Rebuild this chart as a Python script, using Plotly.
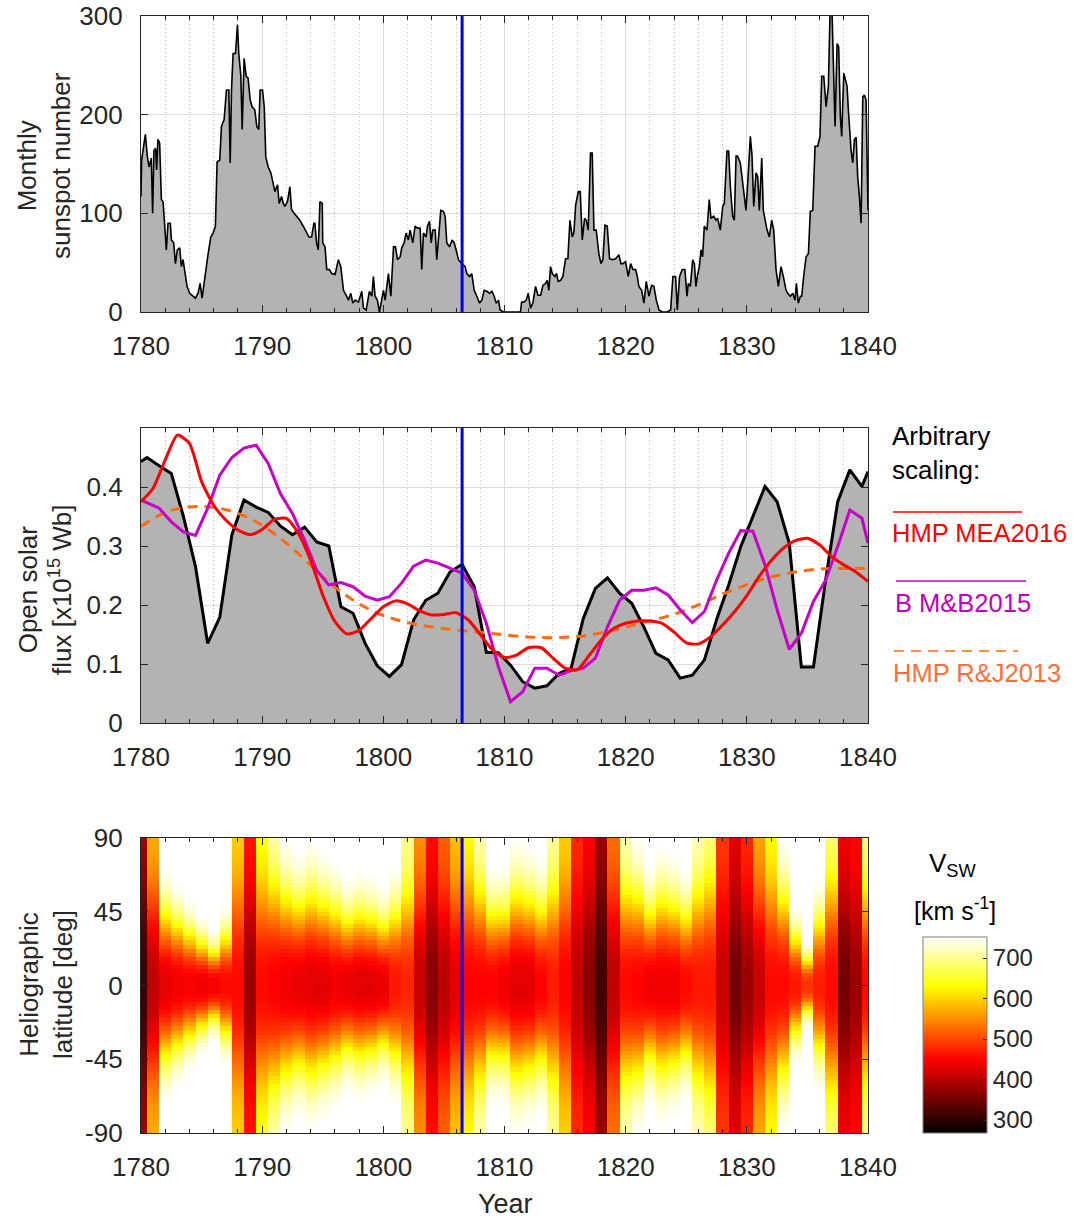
import numpy as np
import plotly.graph_objects as go

W, H = 1074, 1219
FONT = "Liberation Sans, Arial, Helvetica, sans-serif"
AX = "#262626"

# ---------------- Panel 1: monthly sunspot number ----------------
ssn_year = [
    1780.00, 1780.05, 1780.17, 1780.36, 1780.52, 1780.66, 1780.85, 1780.96, 1781.07, 1781.21,
    1781.29, 1781.40, 1781.54, 1781.68, 1781.82, 1781.96, 1782.09, 1782.23, 1782.42, 1782.51,
    1782.70, 1782.84, 1783.00, 1783.20, 1783.33, 1783.47, 1783.61, 1783.80, 1784.02, 1784.30,
    1784.49, 1784.71, 1784.88, 1785.04, 1785.26, 1785.54, 1785.76, 1785.95, 1786.14, 1786.28,
    1786.50, 1786.64, 1786.86, 1787.05, 1787.25, 1787.36, 1787.47, 1787.60, 1787.80, 1787.96,
    1788.07, 1788.24, 1788.35, 1788.51, 1788.68, 1788.84, 1789.01, 1789.17, 1789.39, 1789.56,
    1789.72, 1789.83, 1790.03, 1790.17, 1790.30, 1790.50, 1790.72, 1790.91, 1791.05, 1791.27,
    1791.40, 1791.60, 1791.74, 1791.87, 1792.09, 1792.29, 1792.42, 1792.64, 1792.84, 1793.11,
    1793.39, 1793.66, 1793.86, 1794.08, 1794.27, 1794.35, 1794.49, 1794.63, 1794.77, 1794.96,
    1795.00, 1795.19, 1795.33, 1795.55, 1795.74, 1796.02, 1796.29, 1796.49, 1796.71, 1796.93,
    1797.12, 1797.31, 1797.48, 1797.67, 1797.95, 1798.22, 1798.36, 1798.58, 1798.85, 1799.05,
    1799.18, 1799.32, 1799.51, 1799.68, 1799.87, 1800.01, 1800.15, 1800.42, 1800.62, 1800.84,
    1801.00, 1801.17, 1801.39, 1801.52, 1801.72, 1801.88, 1802.07, 1802.21, 1802.43, 1802.62,
    1802.82, 1803.04, 1803.17, 1803.31, 1803.53, 1803.64, 1803.81, 1803.95, 1804.08, 1804.28,
    1804.41, 1804.55, 1804.74, 1804.96, 1805.10, 1805.24, 1805.46, 1805.68, 1805.85, 1806.01,
    1806.20, 1806.48, 1806.75, 1806.89, 1807.11, 1807.30, 1807.50, 1807.72, 1807.94, 1808.13,
    1808.32, 1808.54, 1808.76, 1808.96, 1809.15, 1809.31, 1809.51, 1809.64, 1809.92, 1811.32,
    1811.41, 1811.60, 1811.79, 1811.96, 1812.15, 1812.34, 1812.56, 1812.76, 1812.98, 1813.17,
    1813.39, 1813.53, 1813.66, 1813.80, 1813.94, 1814.16, 1814.30, 1814.43, 1814.63, 1814.82,
    1815.04, 1815.23, 1815.40, 1815.59, 1815.73, 1815.87, 1816.09, 1816.25, 1816.42, 1816.61,
    1816.75, 1816.91, 1817.10, 1817.24, 1817.38, 1817.57, 1817.79, 1817.96, 1818.12, 1818.29,
    1818.48, 1818.67, 1818.89, 1819.17, 1819.44, 1819.61, 1819.77, 1819.99, 1820.21, 1820.41,
    1820.60, 1820.82, 1820.96, 1821.09, 1821.32, 1821.51, 1821.70, 1821.92, 1822.14, 1822.33,
    1822.53, 1822.75, 1823.02, 1823.43, 1823.71, 1823.90, 1824.12, 1824.26, 1824.45, 1824.67,
    1824.89, 1825.06, 1825.17, 1825.34, 1825.53, 1825.67, 1825.80, 1825.94, 1826.08, 1826.22,
    1826.35, 1826.49, 1826.71, 1826.90, 1827.04, 1827.26, 1827.45, 1827.59, 1827.81, 1828.01,
    1828.14, 1828.36, 1828.50, 1828.64, 1828.83, 1828.97, 1829.11, 1829.24, 1829.46, 1829.60,
    1829.79, 1829.93, 1830.07, 1830.29, 1830.43, 1830.57, 1830.76, 1830.90, 1831.03, 1831.23,
    1831.36, 1831.50, 1831.67, 1831.86, 1832.05, 1832.22, 1832.41, 1832.60, 1832.82, 1833.01,
    1833.24, 1833.37, 1833.59, 1833.79, 1833.98, 1834.09, 1834.25, 1834.42, 1834.53, 1834.69,
    1834.89, 1835.08, 1835.24, 1835.44, 1835.63, 1835.85, 1836.04, 1836.18, 1836.35, 1836.54,
    1836.73, 1836.87, 1837.03, 1837.17, 1837.28, 1837.45, 1837.58, 1837.72, 1837.83, 1838.00,
    1838.13, 1838.27, 1838.38, 1838.49, 1838.60, 1838.74, 1838.88, 1839.02, 1839.15, 1839.29,
    1839.43, 1839.57, 1839.70, 1839.84, 1839.98, 1840.00,
]
ssn = [
    117, 154, 164, 180, 158, 147, 156, 100, 164, 166,
    144, 175, 171, 114, 112, 90, 63, 90, 90, 73,
    70, 49, 63, 65, 46, 53, 39, 26, 19, 16,
    14, 19, 29, 14, 36, 59, 76, 80, 87, 152,
    154, 188, 195, 225, 225, 151, 225, 262, 262, 291,
    262, 239, 185, 257, 239, 237, 215, 208, 205, 188,
    185, 225, 225, 208, 157, 147, 141, 130, 122, 129,
    110, 117, 110, 107, 112, 127, 104, 100, 97, 93,
    87, 80, 76, 76, 90, 90, 70, 63, 112, 110,
    70, 66, 43, 43, 39, 38, 53, 46, 22, 17,
    12, 19, 9, 12, 10, 21, 4, 2, 21, 16,
    36, 16, 12, 0, 12, 22, 12, 39, 16, 66,
    66, 53, 56, 65, 70, 80, 73, 83, 70, 87,
    85, 85, 43, 80, 76, 87, 92, 70, 83, 83,
    53, 73, 103, 102, 97, 70, 66, 73, 70, 63,
    53, 49, 46, 39, 36, 39, 22, 16, 9, 12,
    22, 21, 19, 21, 16, 9, 12, 2, 0, 0,
    10, 10, 12, 19, 4, 9, 26, 17, 17, 27,
    29, 32, 22, 46, 39, 36, 39, 31, 32, 36,
    54, 54, 93, 76, 81, 108, 122, 122, 73, 95,
    93, 83, 161, 161, 83, 83, 59, 49, 53, 88,
    87, 54, 53, 54, 58, 49, 49, 51, 36, 49,
    43, 43, 36, 26, 22, 9, 31, 16, 27, 26,
    12, 2, 0, 0, 2, 36, 36, 2, 36, 43,
    43, 16, 29, 26, 53, 49, 26, 38, 46, 63,
    56, 87, 83, 114, 95, 97, 93, 95, 83, 107,
    110, 163, 163, 127, 97, 93, 158, 158, 151, 137,
    114, 103, 130, 178, 158, 107, 141, 137, 103, 156,
    103, 93, 83, 76, 93, 83, 43, 26, 46, 36,
    22, 19, 16, 19, 12, 29, 9, 16, 16, 36,
    56, 59, 102, 103, 168, 168, 178, 239, 239, 208,
    229, 305, 305, 239, 188, 272, 269, 198, 178, 242,
    235, 229, 205, 178, 164, 151, 175, 177, 137, 117,
    90, 218, 220, 215, 124, 103,
]

# ---------------- Panel 2: open solar flux ----------------
osf_year = [1780.0, 1780.5, 1781.5, 1782.5, 1783.5, 1784.5, 1785.5, 1786.5, 1787.5, 1788.5,
            1789.5, 1790.5, 1791.5, 1792.5, 1793.5, 1794.5, 1795.5, 1796.5, 1797.5, 1798.5,
            1799.5, 1800.5, 1801.5, 1802.5, 1803.5, 1804.5, 1805.5, 1806.5, 1807.5, 1808.5,
            1809.5, 1810.5, 1811.5, 1812.5, 1813.5, 1814.5, 1815.5, 1816.5, 1817.5, 1818.5,
            1819.5, 1820.5, 1821.5, 1822.5, 1823.5, 1824.5, 1825.5, 1826.5, 1827.5, 1828.5,
            1829.5, 1830.5, 1831.5, 1832.5, 1833.5, 1834.5, 1835.5, 1836.5, 1837.5, 1838.5,
            1839.5, 1840.0]
osf = [0.443, 0.450, 0.436, 0.423, 0.350, 0.265, 0.135, 0.179, 0.319, 0.378,
       0.366, 0.357, 0.334, 0.319, 0.332, 0.307, 0.300, 0.197, 0.186, 0.135,
       0.097, 0.079, 0.099, 0.175, 0.208, 0.220, 0.256, 0.269, 0.231, 0.120,
       0.119, 0.098, 0.070, 0.059, 0.063, 0.084, 0.093, 0.177, 0.228, 0.246,
       0.220, 0.203, 0.163, 0.118, 0.107, 0.076, 0.081, 0.107, 0.175, 0.234,
       0.299, 0.350, 0.401, 0.375, 0.305, 0.095, 0.095, 0.242, 0.375, 0.429,
       0.401, 0.426]

mea_year = list(range(1780, 1841))
mea = [0.375, 0.398, 0.446, 0.488, 0.474, 0.409, 0.369, 0.344, 0.327, 0.319,
       0.328, 0.345, 0.347, 0.321, 0.276, 0.217, 0.172, 0.151, 0.157, 0.177,
       0.197, 0.207, 0.202, 0.190, 0.183, 0.184, 0.187, 0.175, 0.150, 0.124,
       0.111, 0.115, 0.128, 0.128, 0.110, 0.093, 0.090, 0.115, 0.141, 0.160,
       0.169, 0.173, 0.173, 0.169, 0.154, 0.136, 0.134, 0.146, 0.166, 0.189,
       0.216, 0.248, 0.275, 0.296, 0.309, 0.313, 0.302, 0.282, 0.268, 0.256,
       0.240]

mb_year = osf_year
mb = [0.378, 0.373, 0.364, 0.341, 0.324, 0.318, 0.364, 0.420, 0.450, 0.466,
      0.471, 0.440, 0.389, 0.355, 0.310, 0.259, 0.234, 0.238, 0.231, 0.215,
      0.208, 0.214, 0.237, 0.266, 0.276, 0.271, 0.262, 0.254, 0.225, 0.169,
      0.095, 0.036, 0.053, 0.093, 0.093, 0.081, 0.089, 0.093, 0.110, 0.163,
      0.208, 0.225, 0.225, 0.229, 0.217, 0.192, 0.170, 0.189, 0.242, 0.288,
      0.326, 0.325, 0.268, 0.192, 0.125, 0.152, 0.206, 0.242, 0.299, 0.361,
      0.347, 0.305]

rj_year = [1780.0, 1781.8, 1783.8, 1785.7, 1787.6, 1789.5, 1791.5, 1793.4, 1795.3, 1797.3,
           1799.2, 1801.1, 1803.0, 1805.0, 1806.9, 1808.8, 1810.7, 1812.7, 1814.6, 1816.6,
           1818.5, 1820.5, 1822.4, 1824.4, 1826.3, 1828.2, 1830.2, 1832.1, 1834.0, 1836.0,
           1837.9, 1839.9]
rj = [0.333, 0.355, 0.366, 0.366, 0.358, 0.341, 0.313, 0.279, 0.242, 0.211,
      0.189, 0.175, 0.166, 0.160, 0.156, 0.152, 0.148, 0.145, 0.145, 0.148,
      0.155, 0.165, 0.175, 0.187, 0.203, 0.220, 0.236, 0.248, 0.256, 0.261,
      0.262, 0.262]

# ---------------- Panel 3: solar wind speed vs latitude ----------------
vsw_year = list(range(1780, 1841))
vsw_equator = [310, 405, 432, 440, 445, 440, 445, 455, 455, 378,
               455, 450, 440, 435, 430, 430, 440, 435, 430, 430,
               435, 465, 475, 410, 365, 400, 430, 450, 450, 450,
               440, 430, 430, 450, 470, 450, 405, 365, 315, 405,
               455, 450, 440, 440, 440, 455, 465, 465, 410, 350,
               380, 410, 455, 455, 465, 485, 470, 455, 350, 380,
               455]
vsw_pole = [385, 575, 760, 760, 760, 760, 760, 760, 600, 465,
            640, 725, 760, 760, 760, 760, 760, 760, 760, 760,
            760, 760, 700, 555, 460, 520, 590, 635, 720, 760,
            760, 760, 760, 760, 710, 600, 480, 450, 377, 530,
            720, 760, 760, 760, 760, 760, 725, 700, 490, 430,
            480, 570, 635, 760, 760, 760, 760, 700, 440, 455,
            700]
vsw_halfwidth = [60, 55, 44, 38, 32, 26, 21, 30, 55, 55,
                 55, 60, 55, 50, 54, 50, 46, 40, 43, 41,
                 37, 45, 52, 55, 55, 55, 55, 55, 55, 45,
                 45, 55, 52, 48, 55, 55, 55, 55, 55, 55,
                 55, 56, 45, 52, 49, 44, 55, 60, 55, 55,
                 55, 55, 55, 55, 30, 17, 40, 60, 55, 55,
                 55]
lat_centres = np.arange(-88.75, 90, 2.5)
vmin_cb, vmax_cb = 268, 752
cb_ticks = [300, 400, 500, 600, 700]

event_year = 1806.5

# build the V_sw grid (latitude x year) from the per-year profiles
veq = np.array(vsw_equator, float)
vpo = np.array(vsw_pole, float)
hw = np.array(vsw_halfwidth, float)
frac = 1 - np.exp(-(np.abs(lat_centres)[:, None] / hw[None, :]) ** 2.5)
vsw_grid = vpo[None, :] - (vpo - veq)[None, :] * (1 - frac)

# ---------------- geometry (window pixels) ----------------
L, R, T, B = 141, 868, 16, 1133          # plot-area box in pixels
PW, PH = R - L, B - T
panels_px = [(16, 312), (428, 723), (838, 1133)]


def px(x):
    return (x - L) / PW


def py(y):
    return (B - y) / PH


def ydom(t, b):
    return [py(b), py(t)]


tickfont = dict(family=FONT, size=26, color=AX)

fig = go.Figure()

fig.add_trace(go.Scatter(x=ssn_year, y=ssn, mode="lines", fill="tozeroy",
                         fillcolor="#B3B3B3", line=dict(color="black", width=1.6),
                         xaxis="x", yaxis="y", showlegend=False))

fig.add_trace(go.Scatter(x=osf_year, y=osf, mode="lines", fill="tozeroy",
                         fillcolor="#B3B3B3", line=dict(color="black", width=3),
                         xaxis="x2", yaxis="y2", showlegend=False))
fig.add_trace(go.Scatter(x=rj_year, y=rj, mode="lines",
                         line=dict(color="#FF6A10", width=3, dash="10px,7px", shape="spline"),
                         xaxis="x2", yaxis="y2", showlegend=False))
fig.add_trace(go.Scatter(x=mb_year, y=mb, mode="lines",
                         line=dict(color="#C800C8", width=3),
                         xaxis="x2", yaxis="y2", showlegend=False))
fig.add_trace(go.Scatter(x=mea_year, y=mea, mode="lines",
                         line=dict(color="#FF0000", width=3, shape="spline", smoothing=0.6),
                         xaxis="x2", yaxis="y2", showlegend=False))

hot = [[0, "rgb(0,0,0)"], [0.375, "rgb(255,0,0)"], [0.75, "rgb(255,255,0)"], [1, "rgb(255,255,255)"]]
fig.add_trace(go.Heatmap(
    x=vsw_year, y=lat_centres, z=vsw_grid, zmin=vmin_cb, zmax=vmax_cb,
    colorscale=hot, xaxis="x3", yaxis="y3",
    colorbar=dict(x=px(923), xanchor="left", xpad=0, ypad=0,
                  y=py(1133), yanchor="bottom", len=196, lenmode="pixels",
                  thickness=64, thicknessmode="pixels",
                  tickvals=cb_ticks, ticks="inside", ticklen=4, tickcolor=AX,
                  outlinecolor="#7F7F7F", outlinewidth=1,
                  tickfont=dict(family=FONT, size=24, color=AX)),
))


def xaxis(anchor):
    return dict(domain=[0, 1], range=[1780, 1840], anchor=anchor,
                tickvals=list(range(1780, 1841, 10)), ticks="inside", ticklen=7,
                tickwidth=1.2, tickcolor=AX, mirror="ticks", showline=True,
                linecolor=AX, linewidth=1.3, showgrid=True, gridcolor="#DCDCDC",
                gridwidth=1, zeroline=False, tickfont=tickfont, ticklabelstandoff=11,
                automargin=False,
                minor=dict(dtick=2, tick0=1780, ticks="inside", ticklen=4,
                           tickcolor=AX, showgrid=True, gridcolor="#BDBDBD",
                           griddash="1px,3px", gridwidth=1))


def yaxis(anchor, dom, rng, vals, texts, grid=True):
    return dict(domain=dom, range=rng, anchor=anchor, tickvals=vals, ticktext=texts,
                ticks="inside", ticklen=7, tickwidth=1.2, tickcolor=AX, mirror="ticks",
                showline=True, linecolor=AX, linewidth=1.3, showgrid=grid,
                gridcolor="#DCDCDC", gridwidth=1, zeroline=False, tickfont=tickfont,
                ticklabelstandoff=12, automargin=False)


d1, d2, d3 = [ydom(*p) for p in panels_px]
fig.update_layout(
    width=W, height=H,
    margin=dict(l=L, r=W - R, t=T, b=H - B, pad=0, autoexpand=False),
    paper_bgcolor="white", plot_bgcolor="white",
    font=dict(family=FONT, color="black"),
    xaxis=xaxis("y"),
    yaxis=yaxis("x", d1, [0, 300], [0, 100, 200, 300], ["0", "100", "200", "300"]),
    xaxis2=xaxis("y2"),
    yaxis2=yaxis("x2", d2, [0, 0.5], [0, 0.1, 0.2, 0.3, 0.4], ["0", "0.1", "0.2", "0.3", "0.4"]),
    xaxis3=xaxis("y3"),
    yaxis3=yaxis("x3", d3, [-90, 90], [-90, -45, 0, 45, 90], ["-90", "-45", "0", "45", "90"], grid=False),
)

shapes = []
for yr in ["y", "y2", "y3"]:
    shapes.append(dict(type="line", xref="x" if yr == "y" else "x" + yr[1:],
                       yref=yr + " domain", x0=event_year, x1=event_year, y0=0, y1=1,
                       line=dict(color="#0000FF", width=3), layer="above"))

# legend samples (panel 2, right side)
legend_items = [
    ("HMP MEA2016", "#FF0000", "solid", 893, 1022, 512, 533, "#FF0000"),
    ("B M&B2015", "#C800C8", "solid", 896, 1026, 581, 603, "#C000C0"),
    ("HMP R&J2013", "#FF6A10", "10px,7px", 894, 1018, 651, 673, "#FF6E3A"),
]
annotations = []
for name, col, dash, xa, xb, yl, yt, tcol in legend_items:
    shapes.append(dict(type="line", xref="paper", yref="paper", x0=px(xa), x1=px(xb),
                       y0=py(yl), y1=py(yl), line=dict(color=col, width=1.5, dash=dash)))
    annotations.append(dict(text=name, xref="paper", yref="paper", x=px(xa - 3), y=py(yt),
                            xanchor="left", yanchor="middle", showarrow=False,
                            font=dict(family=FONT, size=25.5, color=tcol)))

annotations.append(dict(text="Arbitrary<br>scaling:", xref="paper", yref="paper",
                        x=px(890), y=py(453), xanchor="left", yanchor="middle",
                        showarrow=False, align="left",
                        font=dict(family=FONT, size=26, color="black")))

ytitles = [
    ("Monthly<br>sunspot number", 44, 166),
    ("Open solar<br>flux [x10<sup>15</sup> Wb]", 45, 590),
    ("Heliographic<br>latitude [deg]", 46, 985),
]
for txt, xc, yc in ytitles:
    annotations.append(dict(text=txt, xref="paper", yref="paper", x=px(xc), y=py(yc),
                            xanchor="center", yanchor="middle", textangle=-90,
                            showarrow=False, font=dict(family=FONT, size=26, color=AX)))

annotations.append(dict(text="Year", xref="paper", yref="paper", x=px(505), y=py(1204),
                        xanchor="center", yanchor="middle", showarrow=False,
                        font=dict(family=FONT, size=27, color=AX)))
annotations.append(dict(text="V<sub>SW</sub>", xref="paper", yref="paper", x=px(952), y=py(864),
                        xanchor="center", yanchor="middle", showarrow=False,
                        font=dict(family=FONT, size=26, color="black")))
annotations.append(dict(text="[km s<sup>-1</sup>]", xref="paper", yref="paper", x=px(955), y=py(909),
                        xanchor="center", yanchor="middle", showarrow=False,
                        font=dict(family=FONT, size=25, color="black")))

fig.update_layout(shapes=shapes, annotations=annotations)
fig.write_html(
    "out.html",
    config={"displayModeBar": False},
    post_script="document.body.style.margin='0';document.body.style.overflow='hidden';",
)
